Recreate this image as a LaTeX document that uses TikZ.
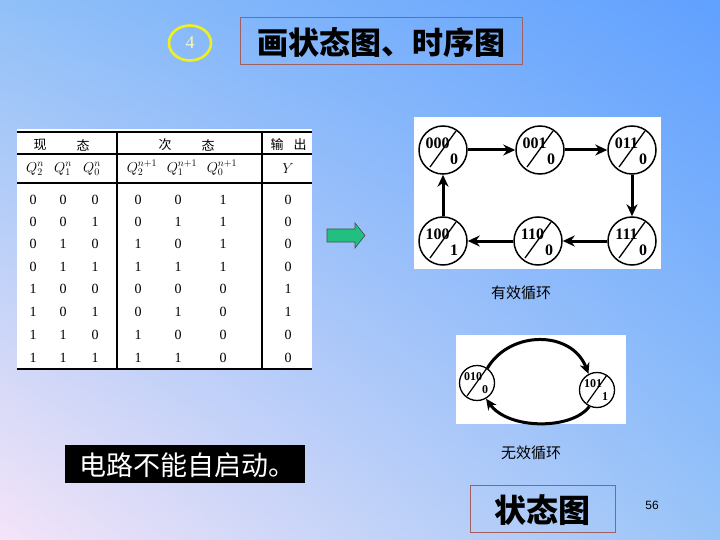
\documentclass[tikz,border=0pt]{standalone}
\usepackage{fontspec}
\setmainfont{Liberation Serif}
\setsansfont{Liberation Sans}
\newfontfamily\cjk{Noto Sans CJK SC}
\usetikzlibrary{arrows.meta,shapes.geometric,shadings}
\definecolor{bgul}{RGB}{144,192,248}
\definecolor{bgur}{RGB}{96,160,255}
\definecolor{bgll}{RGB}{244,228,248}
\definecolor{bglr}{RGB}{152,196,248}
\definecolor{boxred}{RGB}{160,96,96}
\definecolor{arrgreen}{RGB}{34,192,128}
\definecolor{ringyel}{RGB}{240,240,30}
\definecolor{numyel}{RGB}{250,250,170}
\newcommand{\fsz}[1]{\fontsize{#1}{#1}\selectfont}
\tikzset{
  stbig/.style={circle,draw,line width=1.5pt,fill=white,minimum size=48pt,inner sep=0pt},
  stsmall/.style={circle,draw,line width=1.3pt,fill=white,minimum size=35pt,inner sep=0pt},
  bstxt/.style={inner sep=0pt,font=\fsz{16}\bfseries},
  sstxt/.style={inner sep=0pt,font=\fsz{12}\bfseries},
  flow/.style={line width=3pt,-{Stealth[length=12pt,width=11pt]}},
  flowb/.style={line width=3pt,-{Stealth[length=11pt,width=10pt]}},
  cell/.style={inner sep=0pt,font=\fsz{14}},
  qcell/.style={inner sep=0pt,font=\fsz{14}},
  hcell/.style={inner sep=0pt,font=\cjk\fsz{13}},
  tline/.style={line width=1.2pt},
  framebox/.style={draw=boxred,line width=1pt},
}
\newcommand{\bigstate}[4]{%
  \node[stbig] (#1) at (#2) {};
  \draw[line width=1.3pt] ([shift={(-13,17)}]#1.center) -- ([shift={(13,-19)}]#1.center);
  \node[bstxt] (#1t) at ([shift={(-5.5,-7)}]#1.center) {#3};
  \node[bstxt] (#1b) at ([shift={(11,9)}]#1.center) {#4};
}
\newcommand{\smallstate}[4]{%
  \node[stsmall] (#1) at (#2) {};
  \draw[line width=1.2pt] ([shift={(-10,13)}]#1.center) -- ([shift={(10,-15)}]#1.center);
  \node[sstxt] (#1t) at ([shift={(-4,-6)}]#1.center) {#3};
  \node[sstxt] (#1b) at ([shift={(8,7)}]#1.center) {#4};
}
\begin{document}
\begin{tikzpicture}[x=1pt,y=-1pt]
\useasboundingbox (0,0) rectangle (720,540);
\shade[upper left=bgul,upper right=bgur,lower left=bgll,lower right=bglr] (0,0) rectangle (720,540);

% number ring
\node[ellipse,draw=ringyel,line width=2.6pt,minimum width=42pt,minimum height=35pt,inner sep=0pt,
      text=numyel,font=\fsz{18}] (num) at (190,43) {4};

% title
\node[framebox,minimum width=282pt,minimum height=47pt,inner sep=0pt] (title) at (381,41.5) {};
\node[inner sep=0pt,font=\cjk\bfseries\fsz{31}] (titletxt) at (381,43) {画状态图、时序图};

% table
\node[fill=white,minimum width=295pt,minimum height=241pt,inner sep=0pt,anchor=north west] (tab) at (17,129) {};
\draw[tline,line width=1.6pt] (17,132) -- (312,132);
\draw[tline] (17,154) -- (312,154);
\draw[tline] (17,183) -- (312,183);
\draw[tline,line width=1.6pt] (17,369) -- (312,369);
\draw[tline] (117,132) -- (117,369);
\draw[tline] (262,132) -- (262,369);

\node[hcell] (h1) at (40,145) {现};
\node[hcell] (h2) at (83,145) {态};
\node[hcell] (h3) at (165,145) {次};
\node[hcell] (h4) at (208,145) {态};
\node[hcell] (h5) at (277,145) {输};
\node[hcell] (h6) at (300,145) {出};

\node[qcell] (q2) at (35,169) {$Q_2^n$};
\node[qcell] (q1) at (63,169) {$Q_1^n$};
\node[qcell] (q0) at (92,169) {$Q_0^n$};
\node[qcell] (p2) at (142,168) {$Q_2^{n+1}$};
\node[qcell] (p1) at (182,168) {$Q_1^{n+1}$};
\node[qcell] (p0) at (222,168) {$Q_0^{n+1}$};
\node[qcell] (yy) at (288,169) {$Y$};

\foreach \y/\a/\b/\c/\d/\e/\f/\g [count=\i] in
  {200/0/0/0/0/0/1/0, 222/0/0/1/0/1/1/0, 244/0/1/0/1/0/1/0, 267/0/1/1/1/1/1/0,
   289/1/0/0/0/0/0/1, 312/1/0/1/0/1/0/1, 335/1/1/0/1/0/0/0, 358/1/1/1/1/1/0/0}{
  \node[cell] (r\i a) at (33,\y) {\a};
  \node[cell] (r\i b) at (63,\y) {\b};
  \node[cell] (r\i c) at (95,\y) {\c};
  \node[cell] (r\i d) at (138,\y) {\d};
  \node[cell] (r\i e) at (178,\y) {\e};
  \node[cell] (r\i f) at (223,\y) {\f};
  \node[cell] (r\i g) at (288,\y) {\g};
}

% green arrow
\draw[fill=arrgreen,draw=black!70,line width=0.6pt]
  (327,229) -- (355,229) -- (355,223) -- (365,235.5) -- (355,248) -- (355,242) -- (327,242) -- cycle;

% effective cycle
\node[fill=white,minimum width=247pt,minimum height=152pt,inner sep=0pt,anchor=north west] (box1) at (414,117) {};
\bigstate{s000}{443,150}{000}{0}
\bigstate{s001}{540,150}{001}{0}
\bigstate{s011}{632,150}{011}{0}
\bigstate{s111}{632,241}{111}{0}
\bigstate{s110}{538,241}{110}{0}
\bigstate{s100}{443,241}{100}{1}
\draw[flow] (s000) -- (s001);
\draw[flow] (s001) -- (s011);
\draw[flow] (s011) -- (s111);
\draw[flow] (s111) -- (s110);
\draw[flow] (s110) -- (s100);
\draw[flow] (s100) -- (s000);
\node[inner sep=0pt,font=\cjk\fsz{15}] (lab1) at (521,293) {有效循环};

% invalid cycle
\node[fill=white,minimum width=170pt,minimum height=89pt,inner sep=0pt,anchor=north west] (box2) at (456,335) {};
\smallstate{s010}{477,383}{010}{0}
\smallstate{s101}{597,390}{101}{1}
\draw[flowb] (s010.55) .. controls (510,330) and (572,330) .. (s101.118);
\draw[flowb] (s101.245) .. controls (572,430) and (508,430) .. (s010.300);
\node[inner sep=0pt,font=\cjk\fsz{15}] (lab2) at (531,453) {无效循环};

% state diagram caption
\node[framebox,minimum width=145pt,minimum height=47pt,inner sep=0pt] (capbox) at (542.5,508.5) {};
\node[inner sep=0pt,font=\cjk\bfseries\fsz{32}] (captxt) at (542,510) {状态图};

% page number
\node[inner sep=0pt,font=\sffamily\fsz{12}] (pg) at (652,505) {56};

% black box
\node[fill=black,minimum width=240pt,minimum height=38pt,inner sep=0pt] (bbox) at (185,464) {};
\node[inner sep=0pt,text=white,font=\cjk\fsz{27}] (btxt) at (187,465) {电路不能自启动。};
\end{tikzpicture}
\end{document}
